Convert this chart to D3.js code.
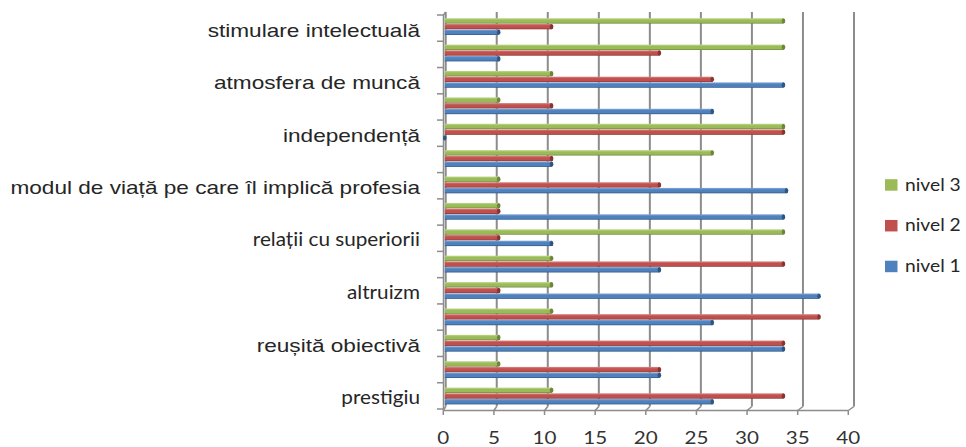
<!DOCTYPE html>
<html>
<head>
<meta charset="utf-8">
<script src="https://cdn.jsdelivr.net/npm/d3@7"></script>
<style>
  html, body { margin: 0; padding: 0; background: #ffffff; }
  svg { display: block; }
</style>
</head>
<body>
<svg id="chart" width="966" height="447"></svg>
<script>
// ---- data (top row first) ----
const categories = [
  "stimulare intelectuală",
  "creativitate",
  "atmosfera de muncă",
  "securitate",
  "independență",
  "varietate",
  "modul de viață pe care îl implică profesia",
  "management",
  "relații cu superiorii",
  "relații cu colegii",
  "altruizm",
  "estetică",
  "reușită obiectivă",
  "avantaje economice",
  "prestigiu"
];
// labels that are printed on the axis (Excel skips every second one)
const shownLabels = [
  "stimulare intelectuală", "atmosfera de muncă", "independență",
  "modul de viață pe care îl implică profesia", "relații cu superiorii",
  "altruizm", "reușită obiectivă", "prestigiu"
];
const seriesNames = ["nivel 1", "nivel 2", "nivel 3"];
const nivel1 = [5.3, 5.3, 33.3, 26.3, 0, 10.5, 33.6, 33.3, 10.5, 21.1, 36.8, 26.3, 33.3, 21.1, 26.3];
const nivel2 = [10.5, 21.1, 26.3, 10.5, 33.3, 10.5, 21.1, 5.3, 5.3, 33.3, 5.3, 36.8, 33.3, 21.1, 33.3];
const nivel3 = [33.3, 33.3, 10.5, 5.3, 33.3, 26.3, 5.3, 5.3, 33.3, 10.5, 10.5, 10.5, 5.3, 5.3, 10.5];
const xTicks = [0, 5, 10, 15, 20, 25, 30, 35, 40];

// ---- styling ----
const colors = {
  "nivel 1": { base: "#4F81BD", light: "#86a9d6", dark: "#2f5582" },
  "nivel 2": { base: "#C0504D", light: "#d98a88", dark: "#8a3431" },
  "nivel 3": { base: "#9BBB59", light: "#c2d98f", dark: "#6c873a" }
};
const calibriLabels = new Set(["relații cu superiorii", "altruizm", "prestigiu"]);
const gridColor = "#8c8c8c";

const svg = d3.select("#chart");
const defs = svg.append("defs");
seriesNames.forEach((s, i) => {
  const g = defs.append("linearGradient").attr("id", "grad" + i)
    .attr("x1", 0).attr("y1", 0).attr("x2", 0).attr("y2", 1);
  g.append("stop").attr("offset", "0%").attr("stop-color", colors[s].light);
  g.append("stop").attr("offset", "35%").attr("stop-color", colors[s].base);
  g.append("stop").attr("offset", "75%").attr("stop-color", colors[s].base);
  g.append("stop").attr("offset", "100%").attr("stop-color", colors[s].dark);
});

// scales: back wall, front edge, bars (mid-depth)
const xBack = d3.scaleLinear().domain([0, 40]).range([445.7, 854]);
const xFront = d3.scaleLinear().domain([0, 40]).range([443.3, 848.3]);
const xBar = d3.scaleLinear().domain([0, 40]).range([444.8, 851.6]);
const yFront = d3.scaleBand().domain(categories).range([15, 409]).paddingInner(0).paddingOuter(0);
const yBar = d3.scaleBand().domain(categories).range([15.5, 15.5 + 15 * 26.386]);
const backTop = 12, backBottom = 406.5, frontY = 410.5;

// back wall gridlines
svg.append("g").selectAll("line").data(xTicks).join("line")
  .attr("x1", d => xBack(d)).attr("x2", d => xBack(d))
  .attr("y1", backTop).attr("y2", backBottom)
  .attr("stroke", gridColor).attr("stroke-width", 2);
// floor diagonals
svg.append("g").selectAll("line").data(xTicks).join("line")
  .attr("x1", d => xBack(d)).attr("x2", d => xFront(d))
  .attr("y1", backBottom).attr("y2", frontY)
  .attr("stroke", gridColor).attr("stroke-width", 1.5);
// front floor edge
svg.append("line")
  .attr("x1", xFront(0)).attr("x2", xFront(40))
  .attr("y1", frontY).attr("y2", frontY)
  .attr("stroke", gridColor).attr("stroke-width", 1.5);
// front x ticks
svg.append("g").selectAll("line").data(xTicks).join("line")
  .attr("x1", d => xFront(d)).attr("x2", d => xFront(d))
  .attr("y1", frontY).attr("y2", frontY + 4.5)
  .attr("stroke", gridColor).attr("stroke-width", 1.5);

// left axis (front edge of side wall)
const axX = 443.5;
svg.append("line").attr("x1", axX).attr("x2", axX)
  .attr("y1", yFront.range()[0]).attr("y2", frontY)
  .attr("stroke", gridColor).attr("stroke-width", 1.5);
svg.append("line").attr("x1", axX).attr("x2", xBack(0))
  .attr("y1", yFront.range()[0]).attr("y2", backTop)
  .attr("stroke", gridColor).attr("stroke-width", 1.5);
const yTickPos = categories.map(c => yFront(c)).concat([yFront.range()[1]]);
svg.append("g").selectAll("line").data(yTickPos).join("line")
  .attr("x1", axX - 6.5).attr("x2", axX)
  .attr("y1", d => d).attr("y2", d => d)
  .attr("stroke", gridColor).attr("stroke-width", 1.5);

// bars
const seriesData = [nivel3, nivel2, nivel1]; // top to bottom in a group
const seriesIdx = [2, 1, 0];
const barH = 5.7, groupOff = 2.7;
seriesData.forEach((vals, k) => {
  const s = seriesNames[seriesIdx[k]];
  const g = svg.append("g");
  const rows = categories.map((c, i) => ({ c, v: vals[i] }));
  g.selectAll("rect").data(rows).join("rect")
    .attr("x", xBar(0))
    .attr("y", d => yBar(d.c) + groupOff + k * barH)
    .attr("width", d => Math.max(0, xBar(d.v) - xBar(0)))
    .attr("height", barH - 0.3)
    .attr("fill", "url(#grad" + seriesIdx[k] + ")");
  g.selectAll("ellipse").data(rows).join("ellipse")
    .attr("cx", d => xBar(d.v))
    .attr("cy", d => yBar(d.c) + groupOff + k * barH + (barH - 0.3) / 2)
    .attr("rx", 1.8).attr("ry", (barH - 0.3) / 2)
    .attr("fill", colors[s].dark);
});

// category labels
const lab = svg.append("g");
categories.forEach(c => {
  if (!shownLabels.includes(c)) return;
  const cal = calibriLabels.has(c);
  const y = yFront(c) + yFront.bandwidth() / 2 + (cal ? 8 : 8.5);
  lab.append("text")
    .attr("transform", `translate(420,${y}) scale(${cal ? 1.12 : 1.19},1)`)
    .attr("text-anchor", "end")
    .attr("font-family", cal ? "Lato, 'Open Sans', sans-serif" : "'Liberation Sans', Arial, sans-serif")
    .attr("font-size", cal ? 18.5 : 19)
    .attr("fill", "#262626")
    .text(c);
});

// x tick labels
svg.append("g").selectAll("text").data(xTicks).join("text")
  .attr("transform", d => `translate(${xFront(d)},443.5) scale(1.25,1)`)
  .attr("text-anchor", "middle")
  .attr("font-family", "Lato, 'Open Sans', sans-serif")
  .attr("font-size", 16.5)
  .attr("fill", "#333333")
  .text(d => d);

// legend (nivel 3 on top)
const legendOrder = ["nivel 3", "nivel 2", "nivel 1"];
const legendY = d3.scalePoint().domain(legendOrder).range([190.7, 272.2]);
const lg = svg.append("g");
lg.selectAll("rect").data(legendOrder).join("rect")
  .attr("x", 885).attr("y", d => legendY(d) - 11.5)
  .attr("width", 12.5).attr("height", 11.5)
  .attr("fill", d => colors[d].base);
lg.selectAll("text").data(legendOrder).join("text")
  .attr("transform", d => `translate(905,${legendY(d)}) scale(1.1,1)`)
  .attr("font-family", "Lato, 'Open Sans', sans-serif")
  .attr("font-size", 17.5)
  .attr("fill", "#262626")
  .text(d => d);
</script>
</body>
</html>
